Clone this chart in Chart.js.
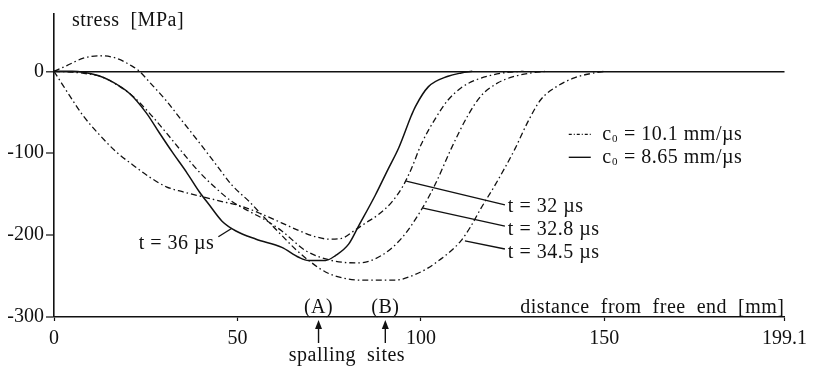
<!DOCTYPE html>
<html>
<head>
<meta charset="utf-8">
<script src="https://cdn.jsdelivr.net/npm/chart.js@4.4.1/dist/chart.umd.min.js"></script>
<style>
  html, body { margin: 0; padding: 0; background: #ffffff; }
  #wrap { width: 813px; height: 371px; }
</style>
</head>
<body>
<div id="wrap"><canvas id="c" width="813" height="371"></canvas></div>
<script>
// ---------- data (distance from free end [mm], stress [MPa]) ----------
// c0 = 8.65 mm/us, t = 36 us (solid)
const t36_x = [0, 5, 8, 12, 15.2, 20.6, 25.2, 28.7, 32.3, 36.1, 39.6, 42.3, 45.8, 49.6, 55.1, 62.1, 66.7, 69.4, 74, 76.7, 80.3, 83, 87.6, 91, 94, 97.4, 98.5, 102, 107.4, 111, 114];
const t36_y = [0, 0, -1, -5, -11, -27, -51, -75, -99, -123, -147, -163, -183, -195, -205, -215, -227, -231, -231, -225, -211, -189, -151, -120, -93, -54, -43, -19, -6, -2, 0];

// c0 = 10.1 mm/us, t = 32 us (dash-dot)
const t32_x = [0, 2, 4.3, 7.9, 12.5, 17.1, 21.4, 26.0, 30.6, 35.0, 40.4, 45.8, 51.3, 55.9, 62, 67, 71.3, 75, 78.4, 82, 85, 88.4, 92, 95, 97.4, 100.1, 103.9, 107.4, 111, 114.7, 119, 124, 128];
const t32_y = [0, -14, -30, -54, -78, -99, -114, -129, -141, -147, -153, -159, -165, -173, -185, -195, -202, -205, -204, -194, -185, -175, -160, -141, -119, -89, -58, -35, -20, -11, -5, -1, 0];

// c0 = 10.1 mm/us, t = 32.8 us (dash-dot)
const t328_x = [0, 5, 9, 12.5, 17, 21.4, 26, 30.6, 35, 39.6, 44.2, 48.5, 53.2, 57, 62.1, 68.6, 75.7, 83, 89.2, 94.7, 100, 103.9, 108.2, 112.8, 116.4, 121, 125.6, 130, 134];
const t328_y = [0, -1, -3, -6, -16, -30, -51, -75, -99, -123, -143, -159, -171, -180, -195, -219, -231, -234, -225, -204, -170, -138, -95, -54, -30, -14, -6, -2, 0];

// c0 = 10.1 mm/us, t = 34.5 us (dash-dot)
const t345_x = [0, 3.5, 8, 12.5, 17, 21.4, 23.3, 26, 30.6, 35, 39.6, 44.2, 48.5, 53.2, 57, 62, 66, 70, 74, 78.4, 84, 89.2, 93, 98.5, 102, 105.5, 108, 110.9, 113.5, 116.4, 120.2, 125.6, 129, 132.6, 137.2, 141.8, 146, 150];
const t345_y = [0, 7, 16, 19, 16, 6, 0, -13, -36, -61, -87, -114, -139, -159, -177, -200, -218, -233, -245, -252, -255, -255, -255, -248, -240, -229, -220, -207, -190, -167, -139, -95, -63, -35, -18, -8, -3, 0];

// axes
const xTicks = [0, 50, 100, 150, 199.1];
const xTickLabels = ['0', '50', '100', '150', '199.1'];
const yTicks = [-300, -200, -100, 0];
const yTickLabels = ['-300', '-200', '-100', '0'];
const xMin = 0, xMax = 199.1, yMin = -300, yMax = 70;

// texts
const yTitle = 'stress  [MPa]';
const xTitle = 'distance  from  free  end  [mm]';
const legendLabels = [' = 10.1 mm/µs', ' = 8.65 mm/µs'];
const timeLabels = ['t = 32 µs', 't = 32.8 µs', 't = 34.5 µs'];
const timeLeaderFrom = [[96.0, -134], [100.6, -167], [112.0, -207]];   // points on curves
const timeLeaderTo = [[122.9, -163], [122.9, -189], [122.9, -217]];
const timeLabelY = [-165, -193, -221];
const timeLabelX = 123.7;
const t36Label = 't = 36 µs';
const t36LeaderFrom = [48.5, -191.6];
const t36LeaderTo = [44.8, -202];
const t36LabelPos = [43.7, -211];
const siteLabels = ['(A)', '(B)'];
const siteX = [72.1, 90.3];
const siteCaption = 'spalling  sites';

// ---------- chart ----------
const FONT = '"Liberation Serif", "Times New Roman", Times, serif';
const INK = '#111111';
const DASHDOT = [6, 3, 1.5, 3];

function pts(xs, ys) { return xs.map((x, i) => ({ x: x, y: ys[i] })); }

const datasets = [
  { label: 't36', data: pts(t36_x, t36_y), borderColor: INK, borderWidth: 1.5, borderDash: [] },
  { label: 't32', data: pts(t32_x, t32_y), borderColor: INK, borderWidth: 1.3, borderDash: DASHDOT },
  { label: 't32.8', data: pts(t328_x, t328_y), borderColor: INK, borderWidth: 1.3, borderDash: DASHDOT },
  { label: 't34.5', data: pts(t345_x, t345_y), borderColor: INK, borderWidth: 1.3, borderDash: DASHDOT }
].map(d => Object.assign(d, { pointRadius: 0, fill: false, cubicInterpolationMode: 'monotone', tension: 0.4 }));

function setSpacing(ctx, ls, ws) {
  try { ctx.letterSpacing = ls; } catch (e) {}
  try { ctx.wordSpacing = ws; } catch (e) {}
}

const annot = {
  id: 'annot',
  afterDatasetsDraw(chart) {
    const ctx = chart.ctx, sx = chart.scales.x, sy = chart.scales.y, ca = chart.chartArea;
    const px = v => sx.getPixelForValue(v), py = v => sy.getPixelForValue(v);
    ctx.save();
    ctx.fillStyle = INK; ctx.strokeStyle = INK;
    ctx.font = '20px ' + FONT;
    setSpacing(ctx, '0.5px', '0px');

    // y title
    ctx.textAlign = 'left'; ctx.textBaseline = 'middle';
    ctx.fillText(yTitle, ca.left + 18, ca.top + 7);

    // x title
    ctx.textAlign = 'right'; ctx.textBaseline = 'alphabetic';
    ctx.fillText(xTitle, ca.right, ca.bottom - 4);

    // time labels with leaders
    ctx.lineWidth = 1.4; ctx.setLineDash([]);
    for (let i = 0; i < timeLabels.length; i++) {
      ctx.beginPath();
      ctx.moveTo(px(timeLeaderFrom[i][0]), py(timeLeaderFrom[i][1]));
      ctx.lineTo(px(timeLeaderTo[i][0]), py(timeLeaderTo[i][1]));
      ctx.stroke();
      ctx.textAlign = 'left'; ctx.textBaseline = 'middle';
      ctx.fillText(timeLabels[i], px(timeLabelX), py(timeLabelY[i]));
    }
    ctx.beginPath();
    ctx.moveTo(px(t36LeaderFrom[0]), py(t36LeaderFrom[1]));
    ctx.lineTo(px(t36LeaderTo[0]), py(t36LeaderTo[1]));
    ctx.stroke();
    ctx.textAlign = 'right'; ctx.textBaseline = 'middle';
    ctx.fillText(t36Label, px(t36LabelPos[0]), py(t36LabelPos[1]));

    // spalling sites
    for (let i = 0; i < siteLabels.length; i++) {
      const x = px(siteX[i]);
      ctx.textAlign = 'center'; ctx.textBaseline = 'alphabetic';
      ctx.fillText(siteLabels[i], x, ca.bottom - 4);
      ctx.beginPath(); ctx.lineWidth = 1.4;
      ctx.moveTo(x, ca.bottom + 26); ctx.lineTo(x, ca.bottom + 10); ctx.stroke();
      ctx.beginPath();
      ctx.moveTo(x, ca.bottom + 3); ctx.lineTo(x - 3.5, ca.bottom + 12); ctx.lineTo(x + 3.5, ca.bottom + 12);
      ctx.closePath(); ctx.fill();
    }
    ctx.textAlign = 'center'; ctx.textBaseline = 'alphabetic';
    ctx.fillText(siteCaption, (px(siteX[0]) + px(siteX[1])) / 2 - 5, ca.bottom + 44);

    // legend
    const lx0 = px(140.3), lx1 = px(146.3), tx = px(149.4);
    const ly = [py(-77), py(-105)];
    for (let i = 0; i < 2; i++) {
      ctx.beginPath(); ctx.lineWidth = i === 0 ? 1.2 : 1.4;
      ctx.setLineDash(i === 0 ? [3, 2, 1, 2] : []);
      ctx.moveTo(lx0, ly[i]); ctx.lineTo(lx1, ly[i]); ctx.stroke();
      ctx.setLineDash([]);
      ctx.textAlign = 'left'; ctx.textBaseline = 'middle';
      ctx.font = '20px ' + FONT;
      ctx.fillText('c', tx, ly[i]);
      const cw = ctx.measureText('c').width;
      ctx.font = '11px ' + FONT;
      ctx.fillText('0', tx + cw + 0.5, ly[i] + 5);
      const zw = ctx.measureText('0').width;
      ctx.font = '20px ' + FONT;
      ctx.fillText(legendLabels[i], tx + cw + zw + 1, ly[i]);
    }
    ctx.restore();
  }
};

new Chart(document.getElementById('c'), {
  type: 'line',
  data: { datasets: datasets },
  options: {
    responsive: false,
    animation: false,
    devicePixelRatio: 1,
    layout: { padding: { top: 10, right: 25, left: 0, bottom: 0 } },
    plugins: { legend: { display: false }, tooltip: { enabled: false } },
    scales: {
      x: {
        type: 'linear', min: xMin, max: xMax,
        afterBuildTicks: s => { s.ticks = xTicks.map(v => ({ value: v })); },
        afterFit: s => { s.height = 54; },
        ticks: {
          autoSkip: false, maxRotation: 0, padding: 6,
          color: INK, font: { family: FONT, size: 20 },
          callback: v => { const i = xTicks.indexOf(v); return i >= 0 ? xTickLabels[i] : ''; }
        },
        grid: { drawOnChartArea: false, drawTicks: true, tickLength: 4, tickColor: INK, tickWidth: 1.2 },
        border: { display: true, color: INK, width: 1.6 }
      },
      y: {
        type: 'linear', min: yMin, max: yMax,
        afterBuildTicks: s => { s.ticks = yTicks.map(v => ({ value: v })); },
        afterFit: s => { s.width = 54; },
        ticks: {
          autoSkip: false, padding: 2,
          color: INK, font: { family: FONT, size: 20 },
          callback: v => { const i = yTicks.indexOf(v); return i >= 0 ? yTickLabels[i] : ''; }
        },
        grid: {
          drawOnChartArea: true, drawTicks: true, tickLength: 8, tickColor: INK, tickWidth: 1.2,
          color: c => (c.tick && c.tick.value === 0) ? INK : 'rgba(0,0,0,0)',
          lineWidth: c => (c.tick && c.tick.value === 0) ? 1.6 : 0
        },
        border: { display: true, color: INK, width: 1.6 }
      }
    }
  },
  plugins: [annot]
});
</script>
</body>
</html>
